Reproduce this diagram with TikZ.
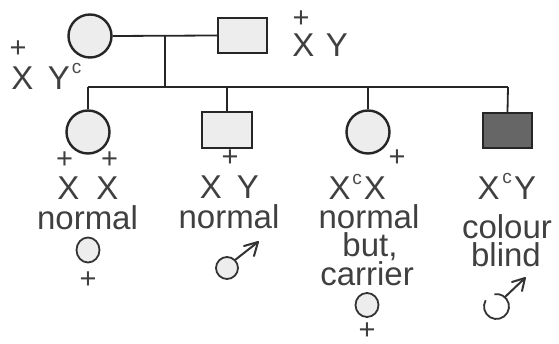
\documentclass[tikz,border=0pt]{standalone}
\usepackage{fontspec}
\setmainfont{Liberation Sans}
\begin{document}
\begin{tikzpicture}[x=1pt,y=-1pt,
  ink/.style={draw=black!85},
  fem/.style={circle,ink,line width=2.4pt,fill=black!7,minimum size=43pt,inner sep=0pt},
  mal/.style={rectangle,ink,line width=2.4pt,fill=black!7,minimum width=49pt,minimum height=35pt,inner sep=0pt},
  aff/.style={mal,fill=black!60},
  conn/.style={draw=black!85,line width=1.8pt},
  lbl/.style={anchor=base,inner sep=0pt,text=black!75,font=\fontsize{33}{26}\selectfont},
  sup/.style={anchor=base,inner sep=0pt,text=black!70,font=\fontsize{19}{20}\selectfont},
  pl/.style={inner sep=0pt,text=black!75,font=\fontsize{29}{24}\selectfont},
  sym/.style={draw=black!80,line width=1.8pt,fill=black!7},
  symline/.style={draw=black!80,line width=2pt,line cap=round,line join=round}
]
\useasboundingbox (0,0) rectangle (559,344);

% parents
\node[fem] (mo) at (90,36) {};
\node[mal] (fa) at (242.5,35.5) {};
\coordinate (m) at (165,36);
\coordinate (s) at (165,87);
\draw[conn] (mo.east) -- (fa.west);
\draw[conn] (m) -- (s);

% children
\node[fem] (c1) at (88,132) {};
\node[mal,minimum width=50pt,minimum height=36pt] (c2) at (227,130) {};
\node[fem] (c3) at (368,132) {};
\node[aff] (c4) at (507.5,130.5) {};
\coordinate (l) at (88,87);
\coordinate (r) at (508,87);
\draw[conn] (l) -- (r);
\draw[conn] (l) -- (c1.north);
\draw[conn] (c2.north |- l) -- (c2.north);
\draw[conn] (c3.north |- l) -- (c3.north);
\draw[conn] (r) -- (c4.north);

% parent labels
\node[pl] (pm) at (18,49) {+};
\node[lbl] (xm) at (22.5,90) {X};
\node[lbl] (ym) at (59,90) {Y};
\node[sup] (cm) at (76.5,74) {c};
\node[pl] (pf) at (301,19) {+};
\node[lbl] (xf) at (303.5,57) {X};
\node[lbl] (yf) at (337,57) {Y};

% child 1
\node[pl] (p1a) at (64.5,160) {+};
\node[pl] (p1b) at (109.5,160) {+};
\node[lbl] (x1a) at (68.5,200) {X};
\node[lbl] (x1b) at (107.5,200) {X};
\node[lbl] (n1) at (87.5,230) {normal};
\draw[sym] (88,250) circle[x radius=11.5pt,y radius=12.5pt];
\node[pl] (p1c) at (88,280) {+};

% child 2
\node[pl] (p2) at (230,158) {+};
\node[lbl] (x2) at (211,199) {X};
\node[lbl] (y2) at (248,199) {Y};
\node[lbl] (n2) at (229,229) {normal};
\draw[sym] (227,268) circle[radius=11pt];
\draw[symline] (235,260) -- (258,242);
\draw[symline] (244,246) -- (258,242) -- (254,256);

% child 3
\node[pl] (p3) at (397,158) {+};
\node[lbl] (x3a) at (339.5,200) {X};
\node[sup] (c3s) at (357,185) {c};
\node[lbl] (x3b) at (375,200) {X};
\node[lbl] (n3) at (369,229) {normal};
\node[lbl] (b3) at (370,257) {but,};
\node[lbl] (ca3) at (367,286) {carrier};
\draw[sym] (367,305) circle[x radius=11.5pt,y radius=12pt];
\node[pl] (p3c) at (367,331) {+};

% child 4
\node[lbl] (x4) at (488.5,200) {X};
\node[sup] (c4s) at (507,184) {c};
\node[lbl] (y4) at (525,200) {Y};
\node[lbl] (co4) at (507,239) {colour};
\node[lbl] (bl4) at (506,267) {blind};
\draw[draw=black!80,line width=1.8pt] (496.5,306.5) ++(150:12.5pt) arc[start angle=150,end angle=460,radius=12.5pt];
\draw[symline] (505,297) -- (525,278);
\draw[symline] (512,282) -- (525,278) -- (522,291);
\end{tikzpicture}
\end{document}
